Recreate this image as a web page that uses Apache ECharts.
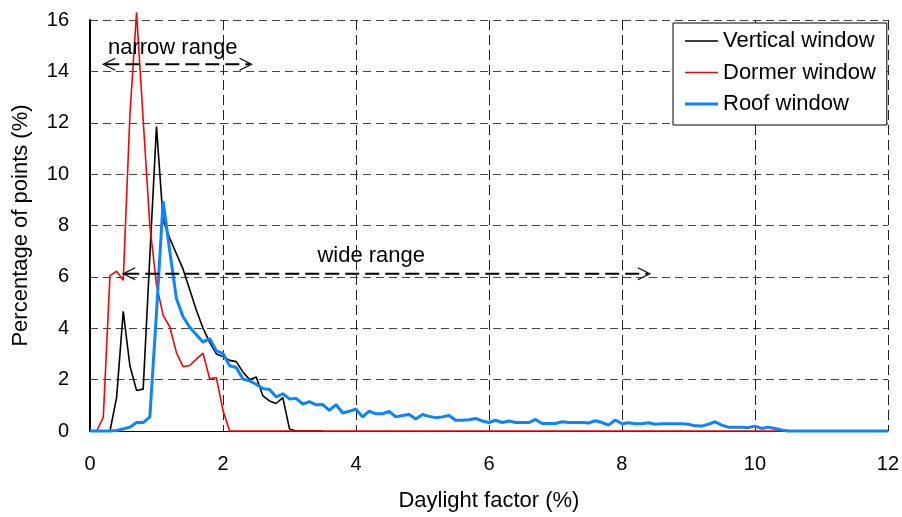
<!DOCTYPE html>
<html>
<head>
<meta charset="utf-8">
<script src="https://cdn.jsdelivr.net/npm/echarts@6/dist/echarts.min.js"></script>
<style>
  html, body { margin: 0; padding: 0; background: #fff; }
  #chart { width: 902px; height: 517px; }
</style>
</head>
<body>
<div id="chart"></div>
<script>
// daylight factor (%) sample positions, shared by all series
const daylightFactor = [
  0, 0.1, 0.2, 0.3, 0.4, 0.5, 0.6, 0.7, 0.8, 0.9,
  1, 1.1, 1.2, 1.3, 1.4, 1.5, 1.6, 1.7, 1.8, 1.9,
  2, 2.1, 2.2, 2.3, 2.4, 2.5, 2.6, 2.7, 2.8, 2.9,
  3, 3.1, 3.2, 3.3, 3.4, 3.5, 3.6, 3.7, 3.8, 3.9,
  4, 4.1, 4.2, 4.3, 4.4, 4.5, 4.6, 4.7, 4.8, 4.9,
  5, 5.1, 5.2, 5.3, 5.4, 5.5, 5.6, 5.7, 5.8, 5.9,
  6, 6.1, 6.2, 6.3, 6.4, 6.5, 6.6, 6.7, 6.8, 6.9,
  7, 7.1, 7.2, 7.3, 7.4, 7.5, 7.6, 7.7, 7.8, 7.9,
  8, 8.1, 8.2, 8.3, 8.4, 8.5, 8.6, 8.7, 8.8, 8.9,
  9, 9.1, 9.2, 9.3, 9.4, 9.5, 9.6, 9.7, 9.8, 9.9,
  10, 10.1, 10.2, 10.3, 10.4, 10.5, 10.6, 10.7, 10.8, 10.9,
  11, 11.1, 11.2, 11.3, 11.4, 11.5, 11.6, 11.7, 11.8, 11.9,
  12
];

// percentage of points (%)
const verticalWindow = [
  0, 0, 0, 0, 1.3, 4.66, 2.54, 1.58, 1.63, 6.8,
  11.85, 8.2, 7.5, 6.9, 6.3, 5.5, 4.7, 4.0, 3.45, 3.0,
  2.9, 2.75, 2.7, 2.3, 2.0, 2.1, 1.37, 1.17, 1.07, 1.3,
  0.08, 0, 0, 0, 0, 0
];
const dormerWindow = [
  0, 0, 0.53, 6.05, 6.22, 5.87, 12.3, 16.3, 12.1, 8.0,
  5.7, 4.5, 4.05, 3.05, 2.5, 2.55, 2.8, 3.03, 2.03, 2.08,
  0.8, 0, 0, 0, 0, 0, 0, 0, 0, 0,
  0, 0, 0, 0, 0, 0, 0, 0, 0, 0,
  0, 0, 0, 0, 0, 0, 0, 0, 0, 0,
  0, 0, 0, 0, 0, 0, 0, 0, 0, 0,
  0, 0, 0, 0, 0, 0, 0, 0, 0, 0,
  0, 0, 0, 0, 0, 0, 0, 0, 0, 0,
  0, 0, 0, 0, 0, 0, 0, 0, 0, 0,
  0, 0, 0, 0, 0, 0, 0, 0, 0, 0,
  0, 0, 0, 0, 0
];
const roofWindow = [
  0, 0, 0, 0, 0.02, 0.08, 0.15, 0.33, 0.33, 0.55,
  4.6, 8.95, 7.0, 5.15, 4.45, 4.04, 3.75, 3.46, 3.6, 3.12,
  3.02, 2.54, 2.47, 2.02, 1.95, 1.82, 1.65, 1.62, 1.33, 1.45,
  1.25, 1.27, 1.05, 1.14, 1.02, 1.03, 0.8, 1.03, 0.7, 0.77,
  0.85, 0.55, 0.77, 0.67, 0.67, 0.76, 0.55, 0.6, 0.64, 0.47,
  0.64, 0.57, 0.52, 0.55, 0.6, 0.42, 0.42, 0.44, 0.49, 0.39,
  0.33, 0.42, 0.33, 0.39, 0.33, 0.33, 0.33, 0.45, 0.29, 0.29,
  0.29, 0.36, 0.33, 0.33, 0.33, 0.31, 0.4, 0.33, 0.23, 0.43,
  0.28, 0.32, 0.28, 0.28, 0.32, 0.26, 0.28, 0.28, 0.28, 0.28,
  0.26, 0.2, 0.19, 0.26, 0.36, 0.23, 0.15, 0.15, 0.15, 0.13,
  0.19, 0.1, 0.15, 0.1, 0.04, 0, 0, 0, 0, 0,
  0, 0, 0, 0, 0, 0, 0, 0, 0, 0,
  0
];

// range annotations (in axis units)
const rangeNames = ['narrow range', 'wide range'];
const rangeFrom = [0.2, 0.5];
const rangeTo = [2.43, 8.42];
const rangeLevel = [14.28, 6.12];
const rangeLabelX = [0.27, 3.42];
const rangeLabelY = [14.9, 6.83];

const FONT = 'Liberation Sans, Arial, sans-serif';

function pairs(ys) {
  return ys.map((y, i) => [daylightFactor[i], y]);
}

const chart = echarts.init(document.getElementById('chart'), null, { renderer: 'canvas' });

chart.setOption({
  animation: false,
  backgroundColor: '#fff',
  textStyle: { fontFamily: FONT, color: '#000' },
  grid: { left: 90, right: 12, top: 20, bottom: 86 },
  legend: {
    orient: 'vertical',
    left: 673,
    top: 23,
    padding: [7, 11, 10, 12],
    itemWidth: 33,
    itemHeight: 14,
    itemGap: 9.5,
    borderColor: '#000',
    borderWidth: 1,
    backgroundColor: '#fff',
    textStyle: { fontFamily: FONT, fontSize: 22, color: '#000', lineHeight: 22 },
    data: [
      { name: 'Vertical window', icon: 'path://M0,0 H33 V1.6 H0 Z', itemStyle: { color: '#000' } },
      { name: 'Dormer window', icon: 'path://M0,0 H33 V1.6 H0 Z', itemStyle: { color: '#ff0000' } },
      { name: 'Roof window', icon: 'path://M0,0 H33 V3 H0 Z', itemStyle: { color: '#0a84ff' } }
    ]
  },
  xAxis: {
    type: 'value',
    min: 0,
    max: 12,
    interval: 2,
    name: 'Daylight factor (%)',
    nameLocation: 'middle',
    nameGap: 59,
    nameTextStyle: { fontFamily: FONT, fontSize: 22, color: '#000' },
    axisLine: { show: true, onZero: false, lineStyle: { color: '#000', width: 1 } },
    axisTick: { show: false },
    axisLabel: { fontFamily: FONT, fontSize: 20, color: '#000', margin: 23 },
    splitLine: { show: true, lineStyle: { color: '#222', width: 1, type: [10, 5] } }
  },
  yAxis: {
    type: 'value',
    min: 0,
    max: 16,
    interval: 2,
    name: 'Percentage of points (%)',
    nameLocation: 'middle',
    nameGap: 58,
    nameTextStyle: { fontFamily: FONT, fontSize: 22, color: '#000' },
    axisLine: { show: true, lineStyle: { color: '#000', width: 2 } },
    axisTick: { show: false },
    axisLabel: { fontFamily: FONT, fontSize: 20, color: '#000', margin: 21 },
    splitLine: { show: true, lineStyle: { color: '#444', width: 1, type: [8, 5] } }
  },
  series: [
    {
      name: 'Vertical window',
      type: 'line',
      data: pairs(verticalWindow),
      symbol: 'none',
      clip: false,
      lineStyle: { color: '#000', width: 1.6 },
      itemStyle: { color: '#000' }
    },
    {
      name: 'Dormer window',
      type: 'line',
      data: pairs(dormerWindow),
      symbol: 'none',
      clip: false,
      lineStyle: { color: '#ff0000', width: 1.6 },
      itemStyle: { color: '#ff0000' }
    },
    {
      name: 'Roof window',
      type: 'line',
      data: pairs(roofWindow),
      symbol: 'none',
      clip: false,
      lineStyle: { color: '#0a84ff', width: 3 },
      itemStyle: { color: '#0a84ff' }
    }
  ]
});

// dashed double arrows with open heads, placed through the axes
const elements = [];
rangeNames.forEach((label, i) => {
  const a = chart.convertToPixel({ gridIndex: 0 }, [rangeFrom[i], rangeLevel[i]]);
  const b = chart.convertToPixel({ gridIndex: 0 }, [rangeTo[i], rangeLevel[i]]);
  const t = chart.convertToPixel({ gridIndex: 0 }, [rangeLabelX[i], rangeLabelY[i]]);
  elements.push({
    type: 'line', z: 10,
    shape: { x1: a[0] + 2, y1: a[1], x2: b[0] - 2, y2: b[1] },
    style: { stroke: '#000', lineWidth: 2, fill: null, lineDash: [14, 6] }
  });
  elements.push({
    type: 'polyline', z: 10,
    shape: { points: [[a[0] + 12, a[1] - 6], [a[0], a[1]], [a[0] + 12, a[1] + 6]] },
    style: { stroke: '#000', lineWidth: 1.2, fill: null }
  });
  elements.push({
    type: 'polyline', z: 10,
    shape: { points: [[b[0] - 12, b[1] - 6], [b[0], b[1]], [b[0] - 12, b[1] + 6]] },
    style: { stroke: '#000', lineWidth: 1.2, fill: null }
  });
  elements.push({
    type: 'text', z: 10,
    x: t[0], y: t[1],
    style: {
      text: label, fill: '#000', font: '22px ' + FONT,
      align: 'left', verticalAlign: 'middle'
    }
  });
});
chart.setOption({ graphic: elements });
</script>
</body>
</html>
